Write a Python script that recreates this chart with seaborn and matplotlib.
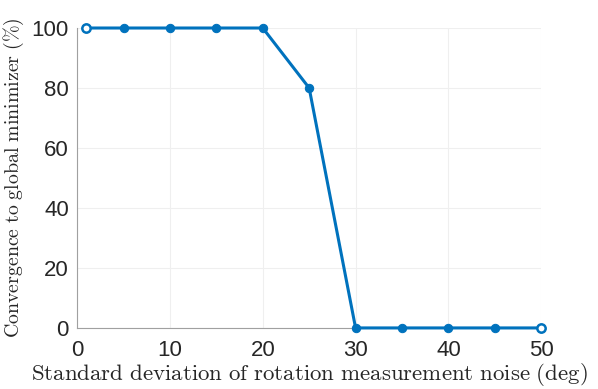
import matplotlib
matplotlib.use("Agg")
import matplotlib.pyplot as plt
import seaborn as sns
import pandas as pd

noise_deg = [1, 5, 10, 15, 20, 25, 30, 35, 40, 45, 50]
convergence_pct = [100, 100, 100, 100, 100, 80, 0, 0, 0, 0, 0]
x_ticks = [0, 10, 20, 30, 40, 50]
y_ticks = [0, 20, 40, 60, 80, 100]

sns.set_theme(style="white")
plt.rcParams['font.family'] = ['Liberation Sans', 'DejaVu Sans']
plt.rcParams['mathtext.fontset'] = 'cm'

df = pd.DataFrame({"x": noise_deg, "y": convergence_pct})
color = "#0072BD"

fig = plt.figure(figsize=(5.98, 3.89), dpi=100)
ax = fig.add_axes([0.129, 0.157, 0.776, 0.771])
sns.lineplot(data=df, x="x", y="y", ax=ax, color=color, linewidth=2.2,
             marker="o", markersize=6, markeredgecolor=color, markerfacecolor=color,
             clip_on=False, zorder=3)
# hollow end markers
ends = df.iloc[[0, -1]]
ax.plot(ends["x"], ends["y"], linestyle="none", marker="o", markersize=6,
        markerfacecolor="white", markeredgecolor=color, markeredgewidth=1.8,
        clip_on=False, zorder=4)

ax.set_xlim(0, 50)
ax.set_ylim(0, 100)
ax.set_xticks(x_ticks)
ax.set_yticks(y_ticks)
ax.grid(True, color="#efefef", linewidth=0.8)
ax.set_axisbelow(True)
for s in ["top", "right"]:
    ax.spines[s].set_visible(False)
for s in ["left", "bottom"]:
    ax.spines[s].set_color("#a0a0a0")
    ax.spines[s].set_linewidth(0.8)
ax.tick_params(axis="both", labelsize=16, length=0, colors="#262626")
ax.tick_params(axis="x", pad=9)
ax.tick_params(axis="y", pad=6)

ax.set_xlabel(r"$\mathrm{Standard\ deviation\ of\ rotation\ measurement\ noise\ (deg)}$",
              fontsize=16.5, labelpad=0, color="#262626")
ax.set_ylabel(r"$\mathrm{Convergence\ to\ global\ minimizer\ (\%)}$",
              fontsize=14.3, labelpad=4, color="#262626")

fig.savefig("out.png", dpi=100)
